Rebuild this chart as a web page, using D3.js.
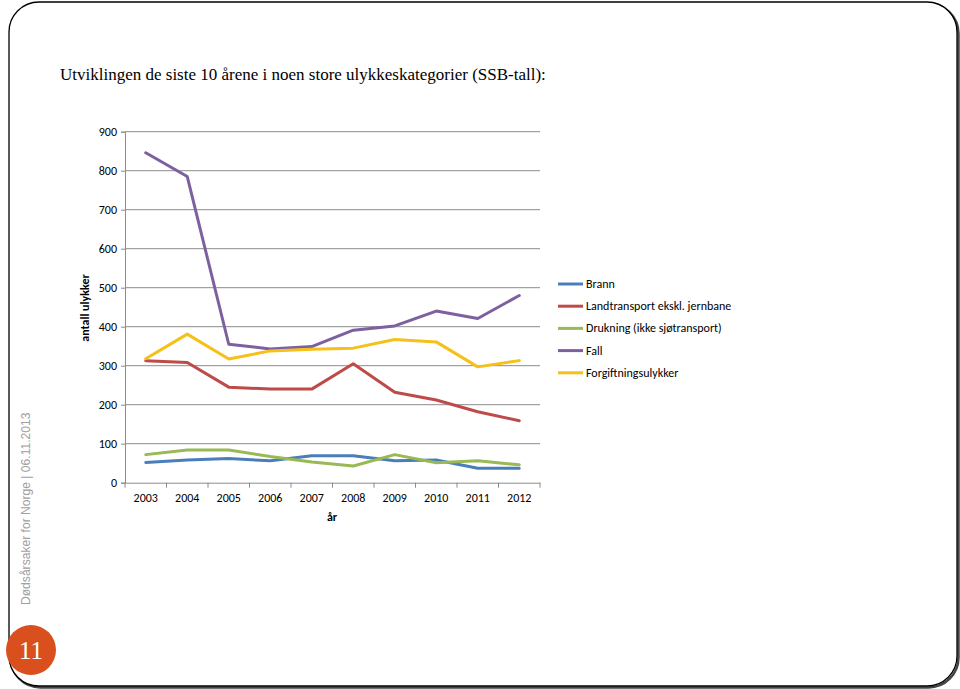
<!DOCTYPE html>
<html><head><meta charset="utf-8">
<script src="https://cdn.jsdelivr.net/npm/d3@7"></script>
<style>body{margin:0;background:#fff}svg{display:block}</style>
</head><body>
<svg id="c" width="960" height="689"></svg>
<script>
const years = ["2003","2004","2005","2006","2007","2008","2009","2010","2011","2012"];
const seriesNames = ["Brann","Landtransport ekskl. jernbane","Drukning (ikke sjøtransport)","Fall","Forgiftningsulykker"];
const brann = [52,58,62,56,69,69,56,58,37,37];
const landtransport = [313,308,245,240,240,305,232,212,182,159];
const drukning = [72,84,84,67,53,43,72,51,56,46];
const fall = [846,785,355,343,349,391,402,440,421,480];
const forgiftning = [318,381,317,338,342,345,367,361,297,313];
const yTicks = [0,100,200,300,400,500,600,700,800,900];
const colors = ["#4A7EBB","#BE4B48","#98B954","#7D60A0","#F5C018"];
const seriesValues = [brann, landtransport, drukning, fall, forgiftning];

(function(){
const svg = d3.select("#c");

// slide frame with shadow
svg.append("rect").attr("x",10.5).attr("y",3.5).attr("width",948).attr("height",684)
  .attr("rx",30).attr("fill","none").attr("stroke","#444").attr("stroke-width",2.5);
svg.append("rect").attr("x",9).attr("y",2).attr("width",948).attr("height",684)
  .attr("rx",30).attr("fill","#fff").attr("stroke","#000").attr("stroke-width",1.3);

// title
svg.append("text").attr("x",60).attr("y",80)
  .attr("font-family","'Liberation Serif', 'Times New Roman', serif").attr("font-size",17)
  .attr("fill","#000").text("Utviklingen de siste 10 årene i noen store ulykkeskategorier (SSB-tall):");

// side text
svg.append("text").attr("transform","translate(30,605) rotate(-90)")
  .attr("font-family","'Liberation Sans', Arial, sans-serif").attr("font-size",12.1)
  .attr("fill","#a0a0a0").text("Dødsårsaker for Norge | 06.11.2013");

// page number
svg.append("circle").attr("cx",31).attr("cy",650).attr("r",25).attr("fill","#D9501E");
svg.append("text").attr("x",31).attr("y",659).attr("text-anchor","middle")
  .attr("font-family","'Liberation Serif', serif").attr("font-size",25).attr("fill","#fff").text("11");

// chart
const pLeft = 125, pRight = 540, pTop = 131.7, pBottom = 482.7;
const x = d3.scaleBand().domain(years).range([pLeft, pRight]);
const y = d3.scaleLinear().domain([0, 900]).range([pBottom, pTop]);
const font = "Carlito, 'Open Sans', 'Liberation Sans', sans-serif";
const fs = 12;

const g = svg.append("g");
// gridlines
g.selectAll("line.grid").data(yTicks.filter(d=>d>0)).join("line")
  .attr("x1",pLeft).attr("x2",pRight).attr("y1",d=>y(d)).attr("y2",d=>y(d))
  .attr("stroke","#8c8c8c").attr("stroke-width",1);

// y axis
const yAxis = d3.axisLeft(y).tickValues(yTicks).tickSize(4).tickPadding(4);
const ya = g.append("g").attr("transform",`translate(${pLeft},0)`).call(yAxis);
ya.select(".domain").attr("stroke","#8c8c8c");
ya.selectAll(".tick line").attr("stroke","#8c8c8c");
ya.selectAll("text").attr("font-family",font).attr("font-size",fs).attr("fill","#000");

// x axis
const xa = g.append("g").attr("transform",`translate(0,${pBottom})`).call(d3.axisBottom(x).tickSize(0).tickPadding(11));
xa.select(".domain").attr("stroke","#8c8c8c");
xa.selectAll("text").attr("font-family",font).attr("font-size",fs).attr("fill","#000");
const bounds = years.map(d=>x(d)).concat([pRight]);
g.selectAll("line.xt").data(bounds).join("line")
  .attr("x1",d=>d).attr("x2",d=>d).attr("y1",pBottom).attr("y2",pBottom+5)
  .attr("stroke","#8c8c8c");

// axis titles
svg.append("text").attr("transform","translate(89,308) rotate(-90)").attr("text-anchor","middle")
  .attr("font-family",font).attr("font-size",fs).attr("font-weight","bold").text("antall ulykker");
svg.append("text").attr("x",332).attr("y",521).attr("text-anchor","middle")
  .attr("font-family",font).attr("font-size",fs).attr("font-weight","bold").text("år");

// lines
const line = d3.line().x((d,i)=>x(years[i]) + x.bandwidth()/2).y(d=>y(d));
seriesValues.forEach((vals, k) => {
  g.append("path").attr("d", line(vals)).attr("fill","none")
    .attr("stroke", colors[k]).attr("stroke-width",3).attr("stroke-linejoin","round").attr("stroke-linecap","round");
});

// legend
const lg = svg.append("g");
seriesNames.forEach((name, k) => {
  const ly = 284 + k*22.2;
  lg.append("line").attr("x1",558).attr("x2",583).attr("y1",ly).attr("y2",ly)
    .attr("stroke",colors[k]).attr("stroke-width",3);
  lg.append("text").attr("x",586).attr("y",ly+4).attr("font-family",font).attr("font-size",fs)
    .attr("fill","#000").text(name);
});
})();
</script>
</body></html>
